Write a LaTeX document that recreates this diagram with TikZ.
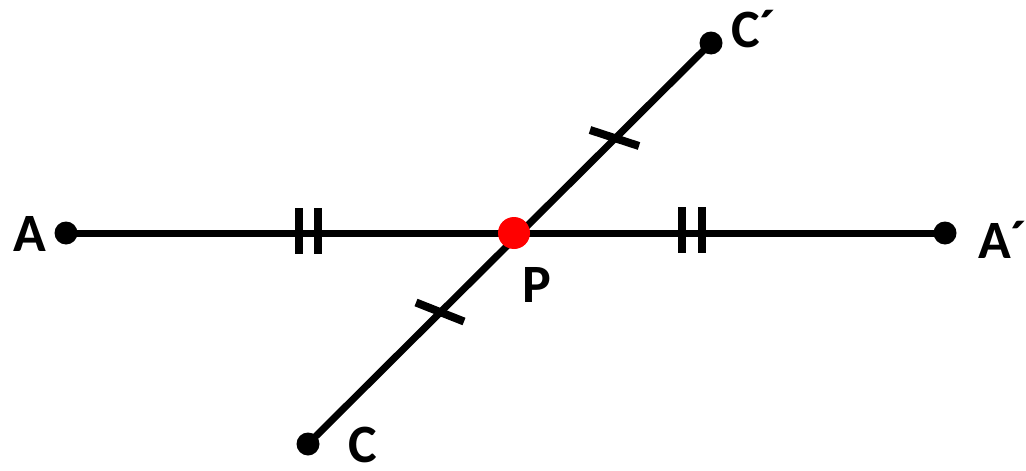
\documentclass[tikz,border=0pt]{standalone}
\usepackage{fontspec}
\setmainfont{Carlito}
\begin{document}
\begin{tikzpicture}[x=1pt,y=-1pt,
  seg/.style={line width=7pt},
  tick/.style={line width=8pt},
  pt/.style={circle,fill=black,inner sep=0pt,minimum size=23pt},
  ppt/.style={circle,fill=red,inner sep=0pt,minimum size=32pt},
  lbl/.style={inner sep=0pt,anchor=base west,font=\fontsize{54}{60}\selectfont\bfseries}]
\useasboundingbox (0,0) rectangle (1026,471);
\coordinate (A) at (66,233);
\coordinate (A2) at (945,233);
\coordinate (C) at (308,444);
\coordinate (C2) at (711,43);
\coordinate (P) at (514,233);
\draw[seg] (A) -- (A2);
\draw[seg] (C) -- (C2);
% ticks
\draw[tick] (299,208) -- (299,254);
\draw[tick] (318,208) -- (318,254);
\draw[tick] (682,207) -- (682,253);
\draw[tick] (702,207) -- (702,253);
\draw[tick] (416,302.5) -- (464,321.5);
\draw[tick] (590,130) -- (639,146);
\node[pt] (dA) at (A) {};
\node[pt] (dA2) at (A2) {};
\node[pt] (dC) at (C) {};
\node[pt] (dC2) at (C2) {};
\node[ppt] (dP) at (P) {};
\node[lbl] (lA) at (13,251) {A};
\node[lbl] (lA2) at (978,258) {A´};
\node[lbl] (lC2) at (731,47) {C´};
\node[lbl] (lC) at (348,462) {C};
\node[lbl] (lP) at (522,302) {P};
\end{tikzpicture}
\end{document}
